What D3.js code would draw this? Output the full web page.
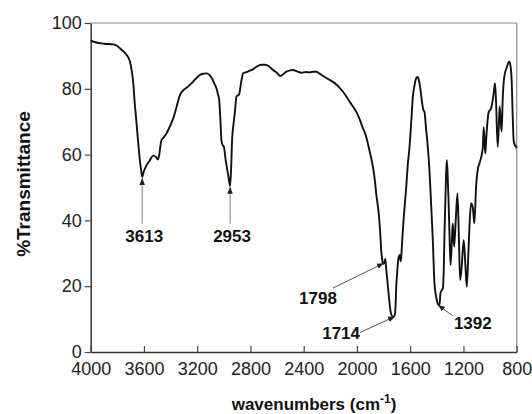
<!DOCTYPE html>
<html>
<head>
<meta charset="utf-8">
<script src="https://cdn.jsdelivr.net/npm/d3@7"></script>
<style>
  body { margin: 0; background: #fff; }
  svg { font-family: "Liberation Sans", Arial, sans-serif; }
</style>
</head>
<body>
<div id="chart"></div>
<script>
// wavenumber (cm-1) and % transmittance
var wavenumbers = [4000, 3950, 3900, 3830, 3800, 3780, 3750, 3730, 3705, 3690, 3680, 3670, 3660, 3643, 3630, 3618, 3613, 3600, 3580, 3560, 3530, 3510, 3495, 3485, 3470, 3450, 3430, 3400, 3380, 3355, 3330, 3300, 3280, 3255, 3230, 3200, 3180, 3150, 3130, 3110, 3093, 3070, 3055, 3045, 3035, 3025, 3018, 3008, 3000, 2985, 2968, 2955, 2953, 2945, 2938, 2925, 2918, 2905, 2895, 2885, 2870, 2855, 2830, 2805, 2780, 2755, 2720, 2690, 2660, 2630, 2600, 2575, 2550, 2530, 2500, 2480, 2450, 2418, 2385, 2355, 2330, 2305, 2280, 2255, 2230, 2205, 2180, 2155, 2130, 2105, 2080, 2055, 2030, 2005, 1980, 1955, 1935, 1918, 1900, 1880, 1865, 1855, 1845, 1835, 1825, 1818, 1810, 1805, 1795, 1787, 1782, 1770, 1760, 1750, 1742, 1730, 1718, 1710, 1705, 1698, 1690, 1685, 1677, 1672, 1668, 1660, 1650, 1640, 1630, 1618, 1605, 1592, 1580, 1568, 1555, 1545, 1535, 1522, 1510, 1500, 1493, 1480, 1468, 1455, 1443, 1430, 1418, 1410, 1400, 1392, 1380, 1372, 1363, 1355, 1348, 1343, 1337, 1331, 1325, 1318, 1312, 1305, 1297, 1288, 1280, 1270, 1258, 1245, 1235, 1225, 1215, 1198, 1185, 1175, 1165, 1155, 1143, 1130, 1118, 1105, 1090, 1080, 1068, 1055, 1048, 1040, 1035, 1028, 1010, 993, 975, 963, 955, 943, 935, 928, 920, 913, 905, 893, 875, 862, 855, 845, 838, 830, 823, 815, 805, 800];
var transmittance = [94.6, 94.0, 93.7, 93.5, 93.0, 92.3, 91.2, 90.3, 88.2, 85, 81.7, 76, 71.5, 63.5, 58, 54.3, 53.2, 55, 56.8, 58, 59.7, 59.3, 58.5, 60, 64.2, 65.3, 66.5, 69, 71, 74.5, 78.1, 79.7, 80.3, 81.2, 82.2, 83.5, 84.2, 84.6, 84.7, 84.3, 83.4, 81.5, 80.1, 78.5, 76.6, 70, 64.4, 62.8, 62.4, 58, 54, 50.8, 50.5, 56, 64.4, 70, 72.5, 77.6, 78, 78.3, 82, 84.7, 85.1, 85.5, 86, 86.7, 87.3, 87.3, 86.8, 85.7, 84.8, 83.9, 84.6, 85.2, 85.6, 85.7, 85.3, 84.9, 85.1, 85, 85.2, 85.2, 84.6, 83.9, 83.3, 82.7, 82.1, 81.3, 80.3, 79.1, 77.7, 76.1, 74.6, 73.0, 70.8, 68, 66, 63.4, 60.2, 56.3, 52, 48, 45, 41.5, 36.1, 31, 28, 26.8, 27, 28.3, 26, 21, 16.8, 13, 11.4, 10.7, 11, 14, 19.8, 24, 28, 29, 29.5, 27.6, 28.5, 34, 40.1, 45, 50, 57, 62.4, 70, 77.6, 81, 83.2, 83.6, 82.7, 79.5, 75.6, 73.5, 73, 67.5, 62.4, 55, 45, 34, 21, 18, 15.8, 14.5, 14.3, 18, 18.8, 19.4, 25, 35, 44.2, 53, 58.4, 53, 46.2, 36, 26.4, 33, 39.1, 32, 40, 48.2, 36, 21.9, 25, 34, 26, 19.8, 28, 38, 45.2, 44, 39.1, 50.3, 56, 57.3, 59, 62, 68.3, 63, 60.4, 65.4, 73, 74, 78, 81.7, 76, 62.4, 68, 74.6, 70, 67, 77, 83.7, 86.5, 88, 88.2, 86.5, 82.7, 72, 64.4, 63, 62.4, 62];

var xTicks = [4000, 3600, 3200, 2800, 2400, 2000, 1600, 1200, 800];
var yTicks = [0, 20, 40, 60, 80, 100];

// labelled bands: vertical stems below, slanted arrows near the carbonyl region
var stemPeaks = [3613, 2953];
var stemValues = [53.2, 50.5];
var arrowPeaks = [1798, 1714, 1392];
var arrowValues = [27, 10.8, 14.3];

var margin = {top: 23, right: 15.3, bottom: 62, left: 90.7},
    width = 532 - margin.left - margin.right,
    height = 414 - margin.top - margin.bottom;

var x = d3.scaleLinear().domain([4000, 800]).range([0, width]);
var y = d3.scaleLinear().domain([0, 100]).range([height, 0]);

var svg = d3.select("#chart").append("svg")
    .attr("width", 532)
    .attr("height", 414);

var defs = svg.append("defs");
defs.append("marker")
    .attr("id", "head")
    .attr("viewBox", "0 0 10 10")
    .attr("refX", 10).attr("refY", 5)
    .attr("markerWidth", 7).attr("markerHeight", 7)
    .attr("markerUnits", "userSpaceOnUse")
    .attr("orient", "auto")
  .append("path")
    .attr("d", "M0,1L10,5L0,9Z")
    .attr("fill", "#222");

var g = svg.append("g")
    .attr("transform", "translate(" + margin.left + "," + margin.top + ")");

// frame: top and right are lighter
g.append("line").attr("x1", 0).attr("x2", width).attr("y1", 0).attr("y2", 0)
    .attr("stroke", "#8a8a8a").attr("stroke-width", 1.2);
g.append("line").attr("x1", width).attr("x2", width).attr("y1", 0).attr("y2", height)
    .attr("stroke", "#8a8a8a").attr("stroke-width", 1.2);

var xAxis = d3.axisBottom(x).tickValues(xTicks).tickFormat(d3.format("d"))
    .tickSizeInner(-6).tickSizeOuter(0).tickPadding(10);
var yAxis = d3.axisLeft(y).tickValues(yTicks).tickFormat(d3.format("d"))
    .tickSizeInner(6).tickSizeOuter(0).tickPadding(3);

var gx = g.append("g")
    .attr("transform", "translate(0," + height + ")")
    .call(xAxis);
var gy = g.append("g").call(yAxis);

[gx, gy].forEach(function(a) {
  a.select(".domain").attr("stroke", "#333").attr("stroke-width", 1.5);
  a.selectAll(".tick line").attr("stroke", "#444").attr("stroke-width", 1.2);
  a.selectAll(".tick text")
    .attr("fill", "#222")
    .style("font-size", "18px")
    .style("font-family", "'Liberation Sans', Arial, sans-serif");
});
gx.selectAll(".tick text").attr("dy", "0.71em");

var points = wavenumbers.map(function(w, i) { return {w: w, t: transmittance[i]}; });

var line = d3.line()
    .curve(d3.curveMonotoneX)
    .x(function(d) { return x(d.w); })
    .y(function(d) { return y(d.t); });

g.append("path")
    .datum(points)
    .attr("fill", "none")
    .attr("stroke", "#111")
    .attr("stroke-width", 1.9)
    .attr("stroke-linejoin", "round")
    .attr("d", line);

// vertical stems with small up-pointing heads
var stemEnd = y(39);
stemPeaks.forEach(function(w, i) {
  var px = x(w), py = y(stemValues[i]);
  g.append("line")
    .attr("x1", px).attr("x2", px)
    .attr("y1", stemEnd).attr("y2", py + 1)
    .attr("stroke", "#888").attr("stroke-width", 1.1)
    .attr("marker-end", "url(#head)");
  g.append("text")
    .attr("x", px + 2)
    .attr("y", stemEnd + 18)
    .attr("text-anchor", "middle")
    .style("font-size", "17px")
    .style("font-weight", "bold")
    .attr("fill", "#111")
    .text(w);
});

// slanted arrows: offset of tail from head and of label from head (px)
var arrowLayout = [
  {tail: [-51, 25], label: [-47, 41], anchor: "end"},
  {tail: [-35, 16], label: [-35, 23], anchor: "end"},
  {tail: [15, 11], label: [16, 24], anchor: "start"}
];
arrowPeaks.forEach(function(w, i) {
  var px = x(w), py = y(arrowValues[i]), l = arrowLayout[i];
  g.append("line")
    .attr("x1", px + l.tail[0]).attr("y1", py + l.tail[1])
    .attr("x2", px).attr("y2", py)
    .attr("stroke", "#555").attr("stroke-width", 1)
    .attr("marker-end", "url(#head)");
  g.append("text")
    .attr("x", px + l.label[0])
    .attr("y", py + l.label[1])
    .attr("text-anchor", l.anchor)
    .style("font-size", "17px")
    .style("font-weight", "bold")
    .attr("fill", "#111")
    .text(w);
});

// axis titles
svg.append("text")
    .attr("transform", "translate(30,184) rotate(-90)")
    .attr("text-anchor", "middle")
    .style("font-size", "19px")
    .style("font-weight", "bold")
    .attr("fill", "#111")
    .text("%Transmittance");

var xt = svg.append("text")
    .attr("x", 314)
    .attr("y", 410)
    .attr("text-anchor", "middle")
    .style("font-size", "17px")
    .style("font-weight", "bold")
    .attr("fill", "#111");
xt.append("tspan").text("wavenumbers (cm");
xt.append("tspan").attr("dy", -7).style("font-size", "12px").text("-1");
xt.append("tspan").attr("dy", 7).text(")");
</script>
</body>
</html>
